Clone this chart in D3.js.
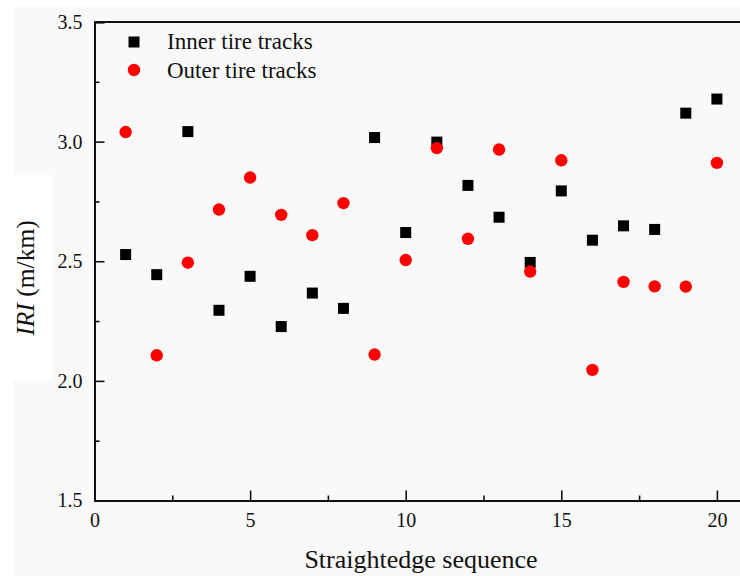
<!DOCTYPE html>
<html>
<head>
<meta charset="utf-8">
<script src="https://cdn.jsdelivr.net/npm/d3@7"></script>
<style>
  body { margin: 0; background: #fff; }
  text { font-family: "Liberation Serif", "Times New Roman", serif; fill: #111; }
</style>
</head>
<body>
<div id="chart-area"></div>
<script>
const WIDTH = 740
const HEIGHT = 576
const MARGIN = { LEFT: 94.5, RIGHT: 0, TOP: 22, BOTTOM: 75 }

// Data
const sequence = d3.range(1, 21)
const innerIRI = [2.528, 2.444, 3.042, 2.295, 2.437, 2.227, 2.367, 2.303, 3.017, 2.62,
                  2.998, 2.817, 2.684, 2.495, 2.794, 2.588, 2.648, 2.633, 3.119, 3.178]
const outerIRI = [3.04, 2.107, 2.494, 2.716, 2.85, 2.694, 2.609, 2.743, 2.11, 2.505,
                  2.973, 2.594, 2.967, 2.457, 2.922, 2.046, 2.414, 2.395, 2.394, 2.911]
const xTicks = [0, 5, 10, 15, 20]
const xMinor = [2.5, 7.5, 12.5, 17.5]
const yTicks = [1.5, 2.0, 2.5, 3.0, 3.5]
const yMinor = [1.75, 2.25, 2.75, 3.25]
const seriesNames = ["Inner tire tracks", "Outer tire tracks"]

const svg = d3.select("#chart-area").append("svg")
  .attr("width", WIDTH)
  .attr("height", HEIGHT)

// page background (gray sheet with white cut-outs)
svg.append("rect").attr("x", 13).attr("y", 7)
  .attr("width", WIDTH - 13).attr("height", HEIGHT - 7).attr("fill", "#f9f9f9")
svg.append("rect").attr("x", 0).attr("y", 175)
  .attr("width", 52).attr("height", 206).attr("fill", "#fff")

const x = d3.scaleLinear().domain([0, 21]).range([MARGIN.LEFT, MARGIN.LEFT + 21 * 31.12])
const y = d3.scaleLinear().domain([1.5, 3.5]).range([HEIGHT - MARGIN.BOTTOM - 0.5, MARGIN.TOP])

// X axis
const gx = svg.append("g")
  .attr("transform", `translate(0,${y(1.5)})`)
  .call(d3.axisBottom(x).tickValues(xTicks).tickSize(-10).tickPadding(12).tickFormat(d3.format("d")))
gx.append("g").call(d3.axisBottom(x).tickValues(xMinor).tickSize(-5).tickFormat(""))
  .select(".domain").remove()

// Y axis
const gy = svg.append("g")
  .attr("transform", `translate(${x(0)},0)`)
  .call(d3.axisLeft(y).tickValues(yTicks).tickSize(-10).tickPadding(12).tickFormat(d3.format(".1f")))
gy.append("g").call(d3.axisLeft(y).tickValues(yMinor).tickSize(-5).tickFormat(""))
  .select(".domain").remove()

svg.selectAll(".domain").attr("stroke", "#111").attr("stroke-width", 2)
svg.selectAll(".tick line").attr("stroke", "#111").attr("stroke-width", 1.6)
svg.selectAll(".tick text").attr("font-size", 20).attr("fill", "#111")
  .style("font-family", '"Liberation Serif", "Times New Roman", serif')

// top frame line
svg.append("line")
  .attr("x1", x(0)).attr("x2", WIDTH)
  .attr("y1", y(3.5)).attr("y2", y(3.5))
  .attr("stroke", "#111").attr("stroke-width", 2)

// axis titles
svg.append("text")
  .attr("x", 421).attr("y", 568)
  .attr("text-anchor", "middle")
  .attr("font-size", 26)
  .text("Straightedge sequence")

const yl = svg.append("text")
  .attr("transform", "translate(34,278) rotate(-90)")
  .attr("text-anchor", "middle")
  .attr("font-size", 25.5)
yl.append("tspan").attr("font-style", "italic").text("IRI")
yl.append("tspan").text(" (m/km)")

// points
const sq = 11
svg.selectAll(".inner")
  .data(sequence)
  .join("rect")
  .attr("class", "inner")
  .attr("x", (d, i) => x(d) - sq / 2)
  .attr("y", (d, i) => y(innerIRI[i]) - sq / 2)
  .attr("width", sq).attr("height", sq)
  .attr("fill", "#000")

svg.selectAll(".outer")
  .data(sequence)
  .join("circle")
  .attr("class", "outer")
  .attr("cx", d => x(d))
  .attr("cy", (d, i) => y(outerIRI[i]))
  .attr("r", 6.2)
  .attr("fill", "#ff0000")

// legend
const legend = svg.append("g").attr("transform", "translate(134,0)")
legend.append("rect").attr("x", -5.5).attr("y", 42 - 5.5).attr("width", sq).attr("height", sq).attr("fill", "#000")
legend.append("circle").attr("cx", 0).attr("cy", 70).attr("r", 6.2).attr("fill", "#ff0000")
legend.selectAll("text")
  .data(seriesNames)
  .join("text")
  .attr("x", 33)
  .attr("y", (d, i) => 48.5 + i * 29)
  .attr("font-size", 23)
  .text(d => d)
</script>
</body>
</html>
